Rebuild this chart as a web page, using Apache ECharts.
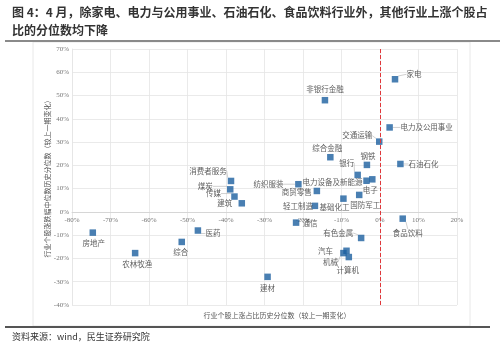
<!DOCTYPE html>
<html><head><meta charset="utf-8">
<script src="https://cdn.jsdelivr.net/npm/echarts@6/dist/echarts.min.js"></script>
<style>html,body{margin:0;padding:0;background:#fff}#c{width:500px;height:344px}</style>
</head><body><div id="c"></div>
<script>
// ---- data ----
const industries = ['家电','电力及公用事业','交通运输','石油石化','钢铁','非银行金融','综合金融','银行','电力设备及新能源','电子','国防军工','基础化工','轻工制造','商贸零售','纺织服装','消费者服务','煤炭','传媒','建筑','通信','有色金属','汽车','机械','计算机','食品饮料','房地产','农林牧渔','综合','医药','建材'];
const xChange = [3.9, 2.5, -0.2, 5.3, -3.4, -14.3, -12.9, -5.8, -3.5, -2.0, -5.4, -9.5, -16.9, -16.4, -21.2, -38.7, -38.9, -37.8, -35.9, -21.8, -4.9, -8.7, -9.5, -8.1, 5.9, -74.6, -63.6, -51.5, -47.3, -29.2];
const yChange = [57.0, 36.3, 30.2, 20.6, 20.2, 48.0, 23.5, 15.9, 13.4, 14.0, 7.3, 5.7, 2.6, 9.0, 11.9, 13.3, 9.7, 6.6, 3.7, -4.6, -11.2, -16.7, -17.7, -19.4, -2.9, -8.9, -17.7, -12.9, -8.0, -27.9];
const xRange = [-80, 20];
const yRange = [-40, 70];
const tickStep = 10;
const titleLines = ['图 4：4 月，除家电、电力与公用事业、石油石化、食品饮料行业外，其他行业上涨个股占', '比的分位数均下降'];
const xAxisName = '行业个股上涨占比历史分位数（较上一期变化）';
const yAxisName = '行业个股涨跌幅中位数历史分位数（较上一期变化）';
const sourceText = '资料来源：wind，民生证券研究院';

// ---- label placement (px offsets of label centre from the point) ----
const labelOffsets = {
  '家电':[19,-5],'电力及公用事业':[37,0],'交通运输':[-22,-6],'石油石化':[23,0],'钢铁':[1,-9],
  '非银行金融':[0,-11],'综合金融':[-3,-9],'银行':[-11,-12],'电力设备及新能源':[-34,1],'电子':[-2,11],
  '国防军工':[6,10],'基础化工':[-9,9],'轻工制造':[-17,0],'商贸零售':[-20,1],'纺织服装':[-30,0],
  '消费者服务':[-23,-10],'煤炭':[-25,-3],'传媒':[-21,-3],'建筑':[-17,0],'通信':[14,1],
  '有色金属':[-23,-5],'汽车':[-21,0],'机械':[-13,9],'计算机':[-1,13],'食品饮料':[5,14],
  '房地产':[1,11],'农林牧渔':[2,11],'综合':[-1,10],'医药':[15,3],'建材':[0,11]
};
const leaderLines = new Set(['家电','电力及公用事业','交通运输','石油石化','银行','纺织服装','消费者服务','煤炭','传媒','有色金属','机械','食品饮料','医药','电力设备及新能源']);

const points = industries.map((n, i) => ({
  name: n,
  value: [xChange[i], yChange[i]],
  labelLine: { show: leaderLines.has(n) }
}));

const gridTop = 49, gridBottom = 39, chartH = 344;
const plotH = chartH - gridTop - gridBottom;
// distance of the zero line above the plot bottom, so the x axis sits on y = 0
const zeroOffset = plotH * (0 - yRange[0]) / (yRange[1] - yRange[0]);

const chart = echarts.init(document.getElementById('c'), null, {renderer: 'canvas'});
const axisLabelStyle = {color: '#777', fontSize: 7, fontFamily: 'Liberation Serif'};
const splitStyle = {show: true, lineStyle: {color: '#e4e4e4', width: 0.8}};

chart.setOption({
  backgroundColor: '#fff',
  animation: false,
  grid: {left: 72, right: 43, top: gridTop, bottom: gridBottom},
  xAxis: {
    type: 'value', min: xRange[0], max: xRange[1], interval: tickStep,
    position: 'bottom', offset: -zeroOffset,
    axisLine: {show: true, onZero: false, lineStyle: {color: '#d0d0d0', width: 0.8}},
    axisTick: {show: false},
    axisLabel: Object.assign({formatter: '{value}%', margin: 5}, axisLabelStyle),
    splitLine: splitStyle
  },
  yAxis: {
    type: 'value', min: yRange[0], max: yRange[1], interval: tickStep,
    axisLine: {show: true, onZero: false, lineStyle: {color: '#e4e4e4', width: 0.8}},
    axisTick: {show: false},
    axisLabel: Object.assign({formatter: '{value}%', margin: 3}, axisLabelStyle),
    splitLine: splitStyle
  },
  series: [{
    type: 'scatter',
    symbol: 'rect',
    symbolSize: 6.5,
    itemStyle: {color: '#1c5f9f'},
    data: points,
    label: {
      show: true, formatter: '{b}', color: '#333', fontSize: 7.5,
      fontFamily: 'Noto Sans CJK SC', position: 'inside'
    },
    labelLine: {show: true, lineStyle: {color: '#b0b0b0', width: 0.6}},
    labelLayout: function (p) {
      const name = industries[p.dataIndex];
      const o = labelOffsets[name] || [0, 10];
      const cx = p.rect.x + p.rect.width / 2;
      const cy = p.rect.y + p.rect.height / 2;
      return {x: cx + o[0], y: cy + o[1], align: 'center', verticalAlign: 'middle'};
    },
    markLine: {
      silent: true, symbol: 'none', label: {show: false},
      lineStyle: {color: '#e0383b', type: 'dashed', width: 1},
      data: [{xAxis: 0}]
    },
    z: 3
  }],
  graphic: [
    {type: 'text', left: 12, top: 6, style: {text: titleLines[0], font: 'bold 12px "Noto Sans CJK SC"', fill: '#333'}},
    {type: 'text', left: 12, top: 24, style: {text: titleLines[1], font: 'bold 12px "Noto Sans CJK SC"', fill: '#333'}},
    {type: 'rect', shape: {x: 5, y: 40, width: 495, height: 2}, style: {fill: '#8a8a8a'}, silent: true},
    {type: 'rect', shape: {x: 33, y: 42, width: 437, height: 284}, style: {fill: 'none', stroke: '#e2e2e2', lineWidth: 0.8}, silent: true, z: -1},
    {type: 'rect', shape: {x: 5, y: 326, width: 485, height: 2}, style: {fill: '#555'}, silent: true},
    {type: 'text', x: 277, y: 315, style: {text: xAxisName, font: '7px "Noto Sans CJK SC"', fill: '#555', textAlign: 'center', textVerticalAlign: 'middle'}},
    {type: 'text', x: 47, y: 177, rotation: Math.PI / 2, style: {text: yAxisName, font: '7px "Noto Sans CJK SC"', fill: '#555', textAlign: 'center', textVerticalAlign: 'middle'}},
    {type: 'text', left: 12, top: 332, style: {text: sourceText, font: '9px "Noto Sans CJK SC"', fill: '#333'}}
  ]
});
</script>
</body></html>
